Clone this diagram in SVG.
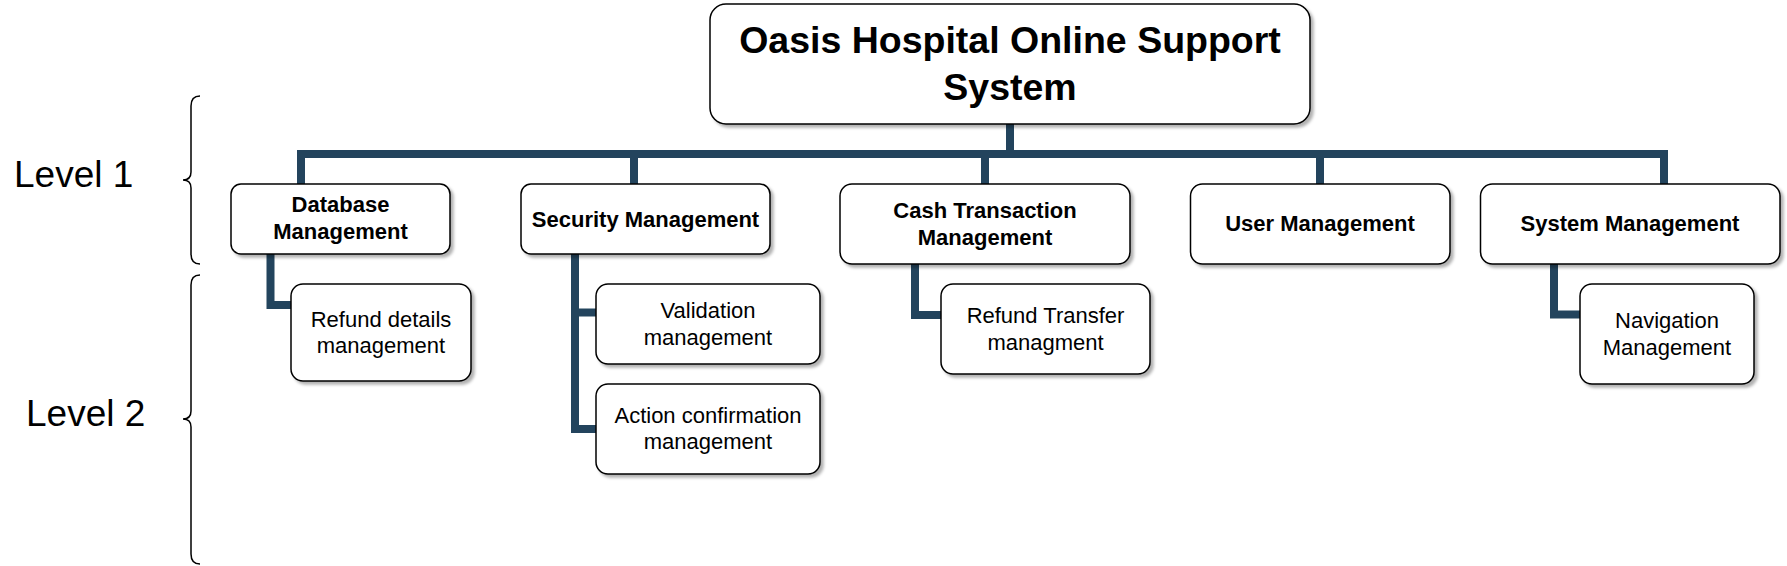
<svg xmlns="http://www.w3.org/2000/svg" width="1787" height="566" viewBox="0 0 1787 566">
<defs>
<filter id="sh" x="-10%" y="-10%" width="130%" height="140%">
<feDropShadow dx="3" dy="3" stdDeviation="1.5" flood-color="#000" flood-opacity="0.3"/>
</filter>
</defs>
<style>
.box{fill:#fff;stroke:#000;stroke-width:1.5;filter:url(#sh)}
.t{font-family:"Liberation Sans",Arial,sans-serif;font-size:22px;fill:#000;text-anchor:middle}
.b{font-weight:bold}
.title{font-family:"Liberation Sans",Arial,sans-serif;font-size:37.5px;font-weight:bold;fill:#000;text-anchor:middle}
.lvl{font-family:"Liberation Sans",Arial,sans-serif;font-size:37px;fill:#000}
.con{fill:none;stroke:#23445D;stroke-width:8}
.brace{fill:none;stroke:#000;stroke-width:1.5}
</style>
<rect width="1787" height="566" fill="#fff"/>
<g id="connectors">
<path class="con" d="M1010,124 V154"/>
<path class="con" d="M301,184 V154 H1664 V184"/>
<path class="con" d="M634,154 V184"/>
<path class="con" d="M985,154 V184"/>
<path class="con" d="M1320,154 V184"/>
<path class="con" d="M270.5,254 V305 H291"/>
<path class="con" d="M575,254 V429 H596"/>
<path class="con" d="M575,312.5 H596"/>
<path class="con" d="M915,264 V315 H941"/>
<path class="con" d="M1554,264 V314.5 H1580"/>
</g>
<g id="levels">
<text class="lvl" x="14" y="187">Level 1</text>
<path class="brace" d="M200,96 Q191,96 191,106 L191,172 Q191,180 183,180 Q191,180 191,188 L191,254 Q191,264 200,264"/>
<text class="lvl" x="26" y="426">Level 2</text>
<path class="brace" d="M200,275 Q191,275 191,285 L191,411 Q191,419 183,419 Q191,419 191,427 L191,554 Q191,564 200,564"/>
</g>
<g id="root">
<rect class="box" x="710" y="4" width="600" height="120" rx="16"/>
<text class="title" x="1010" y="53">Oasis Hospital Online Support</text>
<text class="title" x="1010" y="100">System</text>
</g>
<g id="database">
<rect class="box" x="231" y="184" width="219" height="70" rx="10"/>
<text class="t b" x="340.5" y="212">Database</text>
<text class="t b" x="340.5" y="239">Management</text>
</g>
<g id="security">
<rect class="box" x="521" y="184" width="249" height="70" rx="10"/>
<text class="t b" x="645.5" y="227">Security Management</text>
</g>
<g id="cash">
<rect class="box" x="840" y="184" width="290" height="80" rx="12"/>
<text class="t b" x="985" y="218">Cash Transaction</text>
<text class="t b" x="985" y="245">Management</text>
</g>
<g id="user">
<rect class="box" x="1190.5" y="184" width="259.5" height="80" rx="12"/>
<text class="t b" x="1320" y="231">User Management</text>
</g>
<g id="system">
<rect class="box" x="1480.5" y="184" width="299.5" height="80" rx="12"/>
<text class="t b" x="1630" y="231">System Management</text>
</g>
<g id="refund-details">
<rect class="box" x="291" y="284" width="180" height="97" rx="12"/>
<text class="t" x="381" y="327">Refund details</text>
<text class="t" x="381" y="353">management</text>
</g>
<g id="validation">
<rect class="box" x="596" y="284" width="224" height="80" rx="12"/>
<text class="t" x="708" y="318">Validation</text>
<text class="t" x="708" y="345">management</text>
</g>
<g id="action">
<rect class="box" x="596" y="384" width="224" height="90" rx="12"/>
<text class="t" x="708" y="423">Action confirmation</text>
<text class="t" x="708" y="449">management</text>
</g>
<g id="refund-transfer">
<rect class="box" x="941" y="284" width="209" height="90" rx="12"/>
<text class="t" x="1045.5" y="323">Refund Transfer</text>
<text class="t" x="1045.5" y="350">managment</text>
</g>
<g id="navigation">
<rect class="box" x="1580" y="284" width="174" height="100" rx="12"/>
<text class="t" x="1667" y="328">Navigation</text>
<text class="t" x="1667" y="355">Management</text>
</g>
</svg>
